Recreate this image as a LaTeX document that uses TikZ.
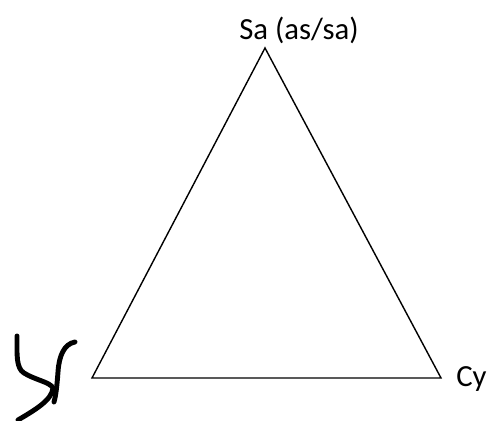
\documentclass[tikz,border=0pt]{standalone}
\usepackage{fontspec}
\setmainfont{Carlito}
\usetikzlibrary{positioning}

\begin{document}
\begin{tikzpicture}[
  x=0.02cm,y=-0.02cm,
  edge/.style={thick,line join=miter},
  lbl/.style={font=\fontsize{17.5}{20}\selectfont,inner sep=0pt},
  scrawl/.style={line width=2.8pt,line cap=round,line join=round}
]
\useasboundingbox (0,0) rectangle (488,421);
\coordinate (sa) at (265,48);
\coordinate (base) at (92,378);
\coordinate (cy) at (441,378);
\node[lbl] (satxt) at (299,30) {Sa (as/sa)};
\node[lbl,anchor=west] (cytxt) at (456,379) {Cy};
\draw[edge] (sa)--(base)--(cy)--cycle;
% hand-drawn mark at the left corner
\draw[scrawl] (17,336) .. controls (17,355) and (16,368) .. (24,373)
  .. controls (35,380) and (50,382) .. (53,388)
  .. controls (52,400) and (35,410) .. (18,420);
\draw[scrawl] (75,342) .. controls (64,344) and (59,356) .. (58,372)
  .. controls (57,385) and (56,395) .. (54,402);
\end{tikzpicture}
\end{document}
